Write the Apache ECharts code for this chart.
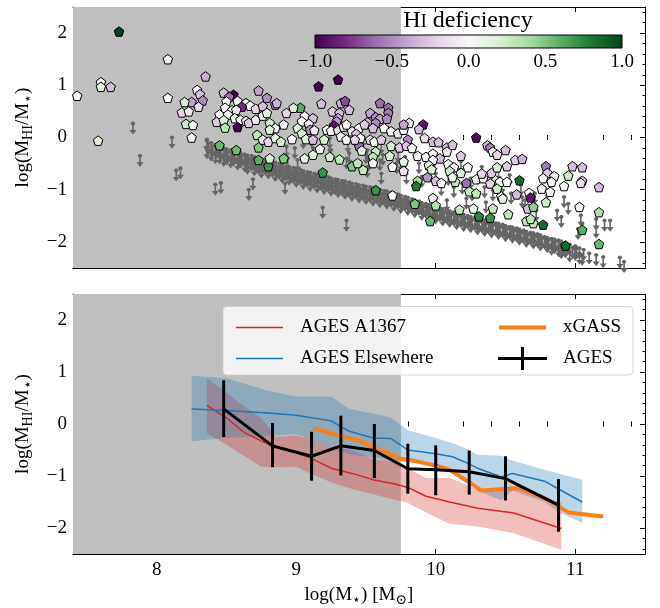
<!DOCTYPE html>
<html>
<head>
<meta charset="utf-8">
<script src="https://cdn.jsdelivr.net/npm/echarts@6/dist/echarts.min.js"></script>
<style>html,body{margin:0;padding:0;background:#fff}#c{width:660px;height:608px}</style>
</head>
<body>
<div id="c"></div>
<script>
// ---------------- data ----------------
const X_MIN = 7.4, X_MAX = 11.5, Y_MIN = -2.5, Y_MAX = 2.5;
const GREY_EDGE = 9.75;
const xMajor = [8, 9, 10, 11];
const yMajor = [-2, -1, 0, 1, 2];
const cbarTicks = [-1, -0.5, 0, 0.5, 1];

// HI detections: [log M*, log(MHI/M*), HI deficiency]
const detections = [
[7.73,2.03,1.0],[8.08,1.5,0.08],[7.43,0.8,0.0],[7.6,1.06,0.0],[7.6,0.97,0.1],[7.67,0.97,-0.3],[7.58,-0.06,0.15],
[8.08,0.76,0.0],[8.35,1.17,-0.35],[8.29,0.91,0.0],[8.31,0.83,-0.3],[8.33,0.71,-0.5],[8.25,0.68,-0.4],[8.2,0.68,0.2],
[8.3,0.59,-0.15],[8.18,0.48,-0.2],[8.23,0.5,-0.1],[8.21,0.26,0.25],[8.26,0.24,0.1],[8.25,0.0,0.1],[8.45,-0.15,0.55],
[8.57,-0.24,0.55],[8.73,0.9,-0.4],[8.79,0.76,-0.5],[8.85,0.63,-0.45],[8.48,0.86,-0.3],[8.55,0.82,-1.0],[8.52,0.78,-0.6],
[8.58,0.7,0.0],[8.64,0.66,0.0],[8.67,0.61,0.0],[8.61,0.59,-0.8],[8.5,0.69,0.0],[8.49,0.57,0.0],[8.54,0.52,0.0],
[8.57,0.53,-0.05],[8.45,0.44,0.0],[8.51,0.44,0.05],[8.56,0.37,0.0],[8.6,0.34,0.05],[8.43,0.3,-0.25],[8.48,0.33,0.2],
[8.49,0.19,0.3],[8.58,0.2,-1.0],[8.64,0.32,0.15],[8.66,0.28,-0.25],[8.71,0.55,-0.2],[8.76,0.6,-0.3],[8.71,0.34,-0.1],
[8.76,0.42,0.0],[8.79,0.47,0.1],[8.81,0.28,0.25],[8.85,0.18,0.0],[8.81,0.15,0.2],[8.72,0.05,0.3],[8.76,-0.04,-0.1],
[8.8,-0.08,-0.2],[8.85,-0.01,0.1],[8.89,-0.08,0.2],[8.91,0.25,0.0],[8.93,0.47,-0.2],[8.86,0.66,-0.35],[8.73,-0.19,0.5],
[8.73,-0.43,0.6],[8.8,-0.55,0.7],[8.81,-0.4,0.2],[8.91,-0.4,0.5],
[9.16,0.98,-1.0],[9.3,1.11,-1.0],[9.18,0.65,-0.3],[9.03,0.57,0.6],[8.98,0.57,0.2],[9.06,0.41,0.0],[9.12,0.37,-0.3],
[9.04,0.31,0.0],[9.09,0.26,0.05],[9.01,0.18,0.2],[9.1,0.15,-0.5],[9.13,0.14,-0.1],[9.04,0.08,0.2],[9.07,-0.03,0.15],
[9.12,-0.04,-0.3],[8.97,-0.03,0.0],[9.26,0.5,-0.25],[9.31,0.47,-0.3],[9.3,0.37,-0.35],[9.29,0.31,-0.45],[9.32,0.66,-0.35],
[9.35,0.7,-0.7],[9.38,0.53,-0.3],[9.27,0.23,-0.9],[9.22,0.15,0.0],[9.25,0.13,0.0],[9.3,0.14,-0.2],[9.34,0.21,0.05],
[9.36,0.25,0.0],[9.32,0.02,0.1],[9.36,-0.04,0.0],[9.2,-0.04,0.2],[9.17,-0.22,0.0],[9.24,-0.37,0.25],[9.31,-0.42,0.3],
[9.06,-0.4,0.1],[9.12,-0.33,0.15],[9.19,-0.67,0.7],[9.4,-0.55,0.5],[9.44,-0.49,0.3],[9.48,-0.62,0.3],[9.4,0.12,-0.1],
[9.45,0.18,0.0],[9.43,0.07,-0.3],[9.45,-0.16,-0.6],[9.46,-0.01,0.0],[9.42,-0.04,-0.2],[9.47,-0.25,0.1],[9.51,0.29,-0.3],
[9.53,0.47,-0.4],[9.57,0.39,-0.5],[9.6,0.66,-0.6],[9.66,0.57,-0.6],[9.66,0.47,-0.55],[9.6,0.36,-0.4],[9.65,0.36,-0.5],
[9.57,0.28,-0.5],[9.49,0.25,-0.25],[9.55,0.18,-0.3],[9.63,0.18,0.0],[9.68,0.12,0.0],[9.73,0.08,-0.1],[9.77,0.15,0.0],
[9.8,-0.04,-0.5],[9.53,-0.04,-0.2],[9.56,-0.08,0.0],[9.61,-0.04,-0.25],[9.68,-0.16,0.2],[9.74,-0.19,-0.25],[9.79,-0.16,-0.25],
[9.57,-0.27,0.25],[9.55,-0.37,0.3],[9.55,-0.49,0.0],[9.67,-0.35,0.2],[9.69,-0.56,0.0],[9.77,-0.64,-0.1],[9.57,-1.01,0.7],
[9.69,-1.11,0.0],
[9.91,0.25,-0.9],[9.81,0.28,-0.1],[9.77,0.25,-0.4],[9.88,0.16,-0.3],[10.29,0.0,-0.95],[9.92,-0.01,-0.15],[9.98,-0.08,-0.3],
[10.02,-0.09,-0.3],[10.08,-0.19,-0.3],[10.12,-0.14,-0.3],[9.83,-0.2,0.0],[10.37,-0.15,-0.3],[10.39,-0.19,-0.55],
[10.41,-0.27,0.0],[10.44,-0.33,-0.2],[10.5,-0.24,-0.3],[10.57,-0.43,-0.25],[10.62,-0.41,-0.35],[10.08,-0.27,-0.1],
[10.18,-0.35,-0.25],[9.87,-0.35,0.0],[9.93,-0.37,0.0],[9.98,-0.31,0.0],[10.03,-0.4,-0.3],[9.98,-0.43,0.0],[9.95,-0.53,0.1],
[9.77,-0.46,0.1],[10.09,-0.51,0.0],[10.13,-0.57,0.0],[10.23,-0.57,0.0],[10.1,-0.64,0.25],[9.97,-0.61,0.2],[10.18,-0.68,0.2],
[9.87,-0.83,0.4],[9.86,-0.93,0.8],[9.94,-0.76,-0.45],[10.0,-0.83,-0.3],[10.04,-0.87,0.0],[10.14,-0.85,0.3],[10.12,-0.76,0.0],
[10.22,-0.87,-0.6],[10.29,-0.8,0.0],[10.34,-0.78,0.0],[10.33,-0.69,-0.2],[10.4,-0.68,-0.25],[10.44,-0.57,0.2],
[10.51,-0.55,-0.25],[10.43,-0.82,0.25],[10.46,-0.85,0.0],[10.51,-0.85,0.0],[10.39,-0.88,-0.2],[10.44,-0.98,0.25],
[10.6,-0.82,0.85],[10.24,-1.03,0.3],[10.29,-1.07,0.3],[9.85,-1.27,0.5],[9.98,-1.16,-0.1],[10.0,-1.3,0.35],[10.17,-1.38,0.3],
[10.27,-1.36,0.1],[10.31,-1.51,0.75],[10.41,-1.36,0.3],[10.39,-1.54,0.7],[10.47,-1.13,0.0],[10.48,-1.17,0.1],
[10.52,-1.47,0.3],[9.96,-1.6,0.55],[10.58,-1.09,-0.3],[10.65,-1.6,0.3],[10.66,-1.36,-0.3],
[10.79,-0.55,-0.55],[10.8,-0.68,-0.25],[10.85,-0.74,-0.1],[10.77,-0.78,0.0],[10.83,-0.85,0.0],[10.98,-0.55,-0.3],
[11.05,-0.57,-0.3],[10.95,-0.73,0.25],[11.05,-0.83,-0.25],[11.04,-0.87,-0.15],[10.92,-0.93,0.0],[11.17,-0.95,-0.3],
[10.76,-0.98,0.05],[10.82,-1.04,0.0],[10.67,-1.06,0.0],[10.68,-1.15,-0.9],[10.79,-1.24,0.25],[10.7,-1.33,0.45],
[10.7,-1.64,0.3],[10.68,-1.56,0.3],[10.77,-1.67,0.85],[11.03,-1.33,0.0],[11.17,-1.43,0.35],[11.05,-1.77,0.6],
[10.93,-2.07,0.85],[11.17,-2.04,0.55]
];

// HI upper limits: [log M*, log(MHI/M*) limit]
const upperLimits = [
[7.83,0.27],[7.88,-0.35],[8.11,0.0],[8.14,-0.63],[8.17,-0.59],[8.42,-0.9],[8.46,-0.87],[8.66,-1.0],[8.69,-0.8],
[8.92,-0.88],[9.19,-1.34],[9.36,-1.59],
[8.36,-0.04],[8.93,-0.17],[8.94,-0.4],[8.99,-0.2],[9.01,-0.43],[9.05,-0.01],[9.11,0.02],[9.12,-0.2],[9.24,-0.01],
[9.25,-0.24],[9.24,-0.24],[9.36,-0.4],[9.37,-0.08],[9.38,-0.3],[9.48,0.02],[9.5,-0.3],[9.51,-0.24],[9.52,-0.43],
[9.51,-0.56],[9.6,-0.43],[9.61,-0.11],[9.61,-0.69],[9.62,-0.33],[9.72,-0.49],[9.73,-0.27],[9.75,-0.43],
[9.78,-0.37],[9.79,-0.69],[9.88,-0.49],[9.9,-0.75],[9.99,-0.46],[10.0,-0.69],[10.04,-0.91],[10.09,-0.72],[10.13,-0.95],
[10.18,-0.46],[10.19,-0.88],[10.25,-0.78],[10.26,-1.01],[10.33,-0.56],[10.35,-0.95],[10.41,-1.01],[10.45,-0.62],
[10.48,-1.01],[10.53,-0.72],[10.54,-1.07],[10.61,-0.91],[10.64,-1.2],[10.08,-1.2],[10.22,-1.17],[10.36,-1.24],
[10.62,-1.14],[10.71,-1.07],[10.72,-1.4],[10.8,-1.11],[10.92,-1.14],[10.95,-1.27],[10.87,-1.4],[10.9,-1.52],
[11.04,-1.49],[11.05,-1.65],[11.15,-1.56],[11.21,-1.59],[11.25,-1.59],[11.02,-1.75],[11.15,-1.72],
[11.05,-2.24],[11.1,-2.22],[11.15,-2.25],[11.2,-2.29],[11.32,-2.3],[11.35,-2.38],
[8.36,-0.06],[8.36,-0.2],[8.39,-0.1],[8.39,-0.25],[8.42,-0.14],[8.42,-0.3],[8.45,-0.17],[8.45,-0.3],[8.48,-0.2],[8.48,-0.35],
[8.5,-0.22],[8.5,-0.32],[8.53,-0.24],[8.53,-0.38],[8.55,-0.26],[8.55,-0.34],[8.58,-0.28],[8.58,-0.42],[8.6,-0.29],[8.6,-0.38],
[8.63,-0.32],[8.63,-0.45],[8.65,-0.34],[8.65,-0.5],[8.68,-0.35],[8.68,-0.44],[8.7,-0.37],[8.7,-0.53],[8.73,-0.4],[8.73,-0.5],
[8.75,-0.41],[8.75,-0.57],[8.78,-0.43],[8.78,-0.52],[8.8,-0.44],[8.8,-0.59],[8.83,-0.46],[8.83,-0.56],[8.85,-0.48],[8.85,-0.64],
[8.88,-0.5],[8.88,-0.6],[8.9,-0.52],[8.9,-0.67],[8.93,-0.55],[8.93,-0.63],[8.95,-0.57],[8.95,-0.71],[8.98,-0.58],[8.98,-0.68],
[9.0,-0.6],[9.0,-0.75],[9.03,-0.62],[9.03,-0.71],[9.05,-0.64],[9.05,-0.79],[9.08,-0.66],[9.08,-0.75],[9.1,-0.67],[9.1,-0.83],
[9.13,-0.69],[9.13,-0.78],[9.15,-0.71],[9.15,-0.86],[9.18,-0.73],[9.18,-0.82],[9.2,-0.74],[9.2,-0.89],[9.23,-0.76],[9.23,-0.85],
[9.25,-0.78],[9.25,-0.92],[9.28,-0.8],[9.28,-0.89],[9.3,-0.81],[9.3,-0.95],[9.33,-0.83],[9.33,-0.92],[9.35,-0.84],[9.35,-0.98],
[9.38,-0.86],[9.38,-0.95],[9.4,-0.88],[9.4,-1.02],[9.43,-0.89],[9.43,-0.98],[9.45,-0.91],[9.45,-1.05],[9.48,-0.92],[9.48,-1.01],
[9.5,-0.94],[9.5,-1.08],[9.53,-0.95],[9.53,-1.04],[9.55,-0.97],[9.55,-1.11],[9.58,-0.98],[9.58,-1.07],[9.6,-1.0],[9.6,-1.14],
[9.63,-1.02],[9.63,-1.1],[9.65,-1.03],[9.65,-1.17],[9.68,-1.05],[9.68,-1.13],[9.7,-1.07],[9.7,-1.21],[9.73,-1.09],[9.73,-1.17],
[9.75,-1.11],[9.75,-1.25],[9.78,-1.13],[9.78,-1.21],[9.8,-1.15],[9.8,-1.29],[9.83,-1.18],[9.83,-1.26],[9.85,-1.2],[9.85,-1.33],
[9.88,-1.22],[9.88,-1.29],[9.9,-1.25],[9.9,-1.38],[9.93,-1.27],[9.93,-1.34],[9.95,-1.29],[9.95,-1.42],[9.98,-1.31],[9.98,-1.38],
[10.0,-1.33],[10.0,-1.45],[10.03,-1.35],[10.03,-1.41],[10.05,-1.37],[10.05,-1.49],[10.08,-1.39],[10.08,-1.45],[10.1,-1.41],[10.1,-1.52],
[10.13,-1.43],[10.13,-1.49],[10.15,-1.44],[10.15,-1.56],[10.18,-1.46],[10.18,-1.52],[10.2,-1.48],[10.2,-1.6],[10.23,-1.5],[10.23,-1.55],
[10.25,-1.52],[10.25,-1.62],[10.28,-1.54],[10.28,-1.58],[10.3,-1.55],[10.3,-1.66],[10.33,-1.57],[10.33,-1.62],[10.35,-1.58],[10.35,-1.69],
[10.38,-1.6],[10.38,-1.65],[10.4,-1.62],[10.4,-1.72],[10.43,-1.64],[10.43,-1.68],[10.45,-1.65],[10.45,-1.75],[10.48,-1.67],[10.48,-1.72],
[10.5,-1.69],[10.5,-1.79],[10.53,-1.71],[10.53,-1.75],[10.55,-1.72],[10.55,-1.82],[10.58,-1.74],[10.58,-1.79],[10.6,-1.76],[10.6,-1.86],
[10.63,-1.78],[10.63,-1.83],[10.65,-1.8],[10.65,-1.9],[10.68,-1.82],[10.68,-1.86],[10.7,-1.83],[10.7,-1.93],[10.73,-1.85],[10.73,-1.9],
[10.75,-1.87],[10.75,-1.97],[10.78,-1.9],[10.78,-1.93],[10.8,-1.92],[10.8,-2.0],[10.83,-1.94],[10.83,-2.05],[10.85,-1.95],[10.85,-2.02],
[10.88,-1.97],[10.88,-2.08],[10.9,-1.99],[10.9,-2.12],[10.93,-2.02],[10.93,-2.1],[10.96,-2.05],[10.96,-2.18],[11.0,-2.08],[11.0,-2.15],
[11.03,-2.12],[11.03,-2.22],[11.06,-2.15],
[8.37,-0.12],[8.4,-0.17],[8.43,-0.2],[8.46,-0.23],[8.49,-0.27],[8.51,-0.28],[8.54,-0.3],[8.56,-0.31],[8.59,-0.34],[8.61,-0.35],
[8.64,-0.38],[8.66,-0.41],[8.69,-0.41],[8.71,-0.44],[8.74,-0.46],[8.76,-0.48],[8.79,-0.49],[8.81,-0.51],[8.84,-0.52],[8.86,-0.55],
[8.89,-0.56],[8.91,-0.59],[8.94,-0.6],[8.96,-0.63],[8.99,-0.64],[9.01,-0.67],[9.04,-0.67],[9.06,-0.71],[9.09,-0.71],[9.11,-0.74],
[9.14,-0.75],[9.16,-0.78],[9.19,-0.79],[9.21,-0.81],[9.24,-0.82],[9.26,-0.85],[9.29,-0.86],[9.31,-0.88],[9.34,-0.89],[9.36,-0.91],
[9.39,-0.92],[9.41,-0.95],[9.44,-0.95],[9.46,-0.98],[9.49,-0.98],[9.51,-1.01],[9.54,-1.01],[9.56,-1.04],[9.59,-1.04],[9.61,-1.07],
[9.64,-1.07],[9.66,-1.1],[9.69,-1.1],[9.71,-1.14],[9.74,-1.14],[9.76,-1.18],[9.79,-1.18],[9.81,-1.22],[9.84,-1.23],[9.86,-1.27],
[9.89,-1.27],[9.91,-1.31],[9.94,-1.31],[9.96,-1.35],[9.99,-1.36],[10.01,-1.39],[10.04,-1.39],[10.06,-1.43],[10.09,-1.43],[10.11,-1.46],
[10.14,-1.46],[10.16,-1.5],[10.19,-1.5],[10.21,-1.54],[10.24,-1.53],[10.26,-1.57],[10.29,-1.57],[10.31,-1.6],[10.34,-1.6],[10.36,-1.63],
[10.39,-1.63],[10.41,-1.67],[10.44,-1.67],[10.46,-1.7],[10.49,-1.7],[10.51,-1.74],[10.54,-1.73],[10.56,-1.77],[10.59,-1.77],[10.61,-1.81],
[10.64,-1.81],[10.66,-1.85],[10.69,-1.85],[10.71,-1.88],[10.74,-1.88],[10.76,-1.92],[10.79,-1.92],[10.81,-1.96],[10.84,-1.99],[10.86,-1.99],
[10.89,-2.03],[10.91,-2.05],[10.94,-2.06],[10.98,-2.11],[11.01,-2.12]
];

// Running medians (bottom panel)
const a1367X  = [8.36, 8.5, 8.62, 8.75, 8.85, 9.0, 9.1, 9.25, 9.4, 9.55, 9.7, 9.8, 9.93, 10.1, 10.3, 10.56, 10.9];
const a1367Y  = [0.36, 0.12, -0.15, -0.33, -0.45, -0.56, -0.65, -0.85, -0.95, -1.07, -1.15, -1.22, -1.39, -1.5, -1.62, -1.71, -2.01];
const a1367Hi = [0.88, 0.6, 0.35, 0.12, -0.25, -0.22, -0.3, -0.45, -0.5, -0.68, -0.72, -0.85, -1.04, -1.04, -1.26, -1.2, -1.52];
const a1367Lo = [-0.18, -0.4, -0.6, -0.82, -0.83, -0.82, -0.95, -1.12, -1.25, -1.35, -1.45, -1.52, -1.7, -1.92, -1.97, -2.1, -2.42];

const elseX  = [8.25, 8.5, 8.8, 9.0, 9.25, 9.38, 9.55, 9.68, 9.8, 10.0, 10.12, 10.2, 10.3, 10.47, 10.55, 10.78, 10.88, 11.05];
const elseY  = [0.29, 0.26, 0.21, 0.17, 0.06, -0.14, -0.27, -0.28, -0.5, -0.57, -0.63, -0.72, -0.85, -1.02, -0.95, -1.1, -1.25, -1.5];
const elseHi = [0.93, 0.88, 0.64, 0.53, 0.53, 0.29, 0.2, 0.12, -0.12, -0.27, -0.37, -0.45, -0.59, -0.61, -0.7, -0.88, -0.95, -1.07];
const elseLo = [-0.33, -0.27, -0.23, -0.19, -0.45, -0.58, -0.64, -0.7, -0.73, -0.8, -0.88, -1.0, -1.28, -1.47, -1.28, -1.5, -1.7, -1.9];

const xgassX = [9.12, 9.3, 9.45, 9.57, 9.75, 9.85, 10.0, 10.1, 10.18, 10.33, 10.6, 10.68, 10.8, 10.95, 11.2];
const xgassY = [-0.08, -0.22, -0.32, -0.47, -0.67, -0.71, -0.8, -0.88, -1.02, -1.28, -1.23, -1.32, -1.45, -1.7, -1.78];

const agesX  = [8.48, 8.83, 9.11, 9.32, 9.56, 9.8, 10.0, 10.24, 10.5, 10.88];
const agesY  = [0.29, -0.42, -0.62, -0.42, -0.51, -0.86, -0.88, -0.92, -1.05, -1.56];
const agesLo = [-0.25, -0.83, -1.09, -0.99, -1.04, -1.34, -1.37, -1.36, -1.47, -2.07];
const agesHi = [0.84, 0.02, -0.15, 0.16, 0.0, -0.38, -0.41, -0.51, -0.62, -1.06];

// ---------------- style ----------------
const FONT = "'Liberation Serif','DejaVu Serif',serif";
const PRGN = ['#40004b','#762a83','#9970ab','#c2a5cf','#e7d4e8','#f7f7f7','#d9f0d3','#a6dba0','#5aae61','#1b7837','#00441b'];
const xMinor = [7.4,7.6,7.8,8.2,8.4,8.6,8.8,9.2,9.4,9.6,9.8,10.2,10.4,10.6,10.8,11.2,11.4];
const yMinor = [-2.4,-2.2,-1.8,-1.6,-1.4,-1.2,-0.8,-0.6,-0.4,-0.2,0.2,0.4,0.6,0.8,1.2,1.4,1.6,1.8,2.2,2.4];
const minus = v => (v < 0 ? '\u2212' + String(-v) : String(v));
const LINE = {show: true, onZero: false, lineStyle: {color: '#000', width: 1}};
const labelStyle = {fontSize: 19, fontFamily: FONT, color: '#000'};

const nameRich = {
  t: {fontSize: 19, fontFamily: FONT, color: '#000'},
  s: {fontSize: 14, fontFamily: FONT, color: '#000', padding: [9, 0, 0, 0]}
};

function makeX(grid, showLabels, name) {
  const base = {type: 'value', gridIndex: grid, min: X_MIN, max: X_MAX, splitLine: {show: false}};
  return [
    Object.assign({}, base, {position: 'bottom', axisLine: LINE,
      axisTick: {show: true, inside: true, length: 5, customValues: xMajor, lineStyle: {color: '#000'}},
      axisLabel: {show: showLabels, customValues: xMajor, margin: 7, ...labelStyle},
      name: name || '', nameLocation: 'middle', nameGap: 30,
      nameTextStyle: {fontSize: 19, fontFamily: FONT, color: '#000', rich: nameRich}}),
    Object.assign({}, base, {position: 'bottom', axisLine: {show: false},
      axisTick: {show: true, inside: true, length: 2.5, customValues: xMinor, lineStyle: {color: '#000'}},
      axisLabel: {show: false}}),
    Object.assign({}, base, {position: 'top', axisLine: LINE,
      axisTick: {show: true, inside: true, length: 5, customValues: xMajor, lineStyle: {color: '#000'}},
      axisLabel: {show: false}}),
    Object.assign({}, base, {position: 'top', axisLine: {show: false},
      axisTick: {show: true, inside: true, length: 2.5, customValues: xMinor, lineStyle: {color: '#000'}},
      axisLabel: {show: false}})
  ];
}
function makeY(grid) {
  const base = {type: 'value', gridIndex: grid, min: Y_MIN, max: Y_MAX, splitLine: {show: false}};
  return [
    Object.assign({}, base, {position: 'left', axisLine: LINE,
      axisTick: {show: true, inside: true, length: 5, customValues: yMajor, lineStyle: {color: '#000'}},
      axisLabel: {show: true, customValues: yMajor, margin: 6, formatter: minus, ...labelStyle},
      name: '{t|log(M}{s|HI}{t|/M}{s|\u22C6}{t|)}', nameLocation: 'middle', nameGap: 38, nameRotate: 90,
      nameTextStyle: {fontSize: 19, fontFamily: FONT, color: '#000', rich: nameRich}}),
    Object.assign({}, base, {position: 'left', axisLine: {show: false},
      axisTick: {show: true, inside: true, length: 2.5, customValues: yMinor, lineStyle: {color: '#000'}},
      axisLabel: {show: false}}),
    Object.assign({}, base, {position: 'right', axisLine: LINE,
      axisTick: {show: true, inside: true, length: 5, customValues: yMajor, lineStyle: {color: '#000'}},
      axisLabel: {show: false}}),
    Object.assign({}, base, {position: 'right', axisLine: {show: false},
      axisTick: {show: true, inside: true, length: 2.5, customValues: yMinor, lineStyle: {color: '#000'}},
      axisLabel: {show: false}})
  ];
}

const pentagon = 'path://M0,-1 L0.951,-0.309 L0.588,0.809 L-0.588,0.809 L-0.951,-0.309 Z';
const arrow = 'path://M3.4,0 L5.6,0 L6.9,1.8 L5.6,3.6 L5.3,3.6 L5.3,8.3 L8,8.3 L4.5,13 L1,8.3 L3.7,8.3 L3.7,3.6 L3.4,3.6 L2.1,1.8 Z';
const greyArea = {silent: true, itemStyle: {color: '#bfbfbf'}, data: [[{xAxis: X_MIN}, {xAxis: GREY_EDGE}]]};
// legend line icons (tiny corner marks keep the icon box full height)
const lineIcon = w => 'path://M0,0 L0.01,0 L0,0.01 Z M0,' + (11.5 - w / 2) + ' H47 V' + (11.5 + w / 2) + ' H0 Z M47,23 L46.99,23 L47,22.99 Z';

const pairs = (xs, ys) => xs.map((x, i) => [x, ys[i]]);

function band(xs, lo, hi, color) {
  return {
    type: 'custom', xAxisIndex: 4, yAxisIndex: 4, silent: true, z: 2,
    data: xs.map((x, i) => [x, lo[i], hi[i]]), encode: {x: 0, y: [1, 2]},
    renderItem: (params, api) => {
      if (params.dataIndex !== 0) return null;
      const pts = [];
      for (let i = 0; i < xs.length; i++) pts.push(api.coord([xs[i], hi[i]]));
      for (let i = xs.length - 1; i >= 0; i--) pts.push(api.coord([xs[i], lo[i]]));
      return {type: 'polygon', shape: {points: pts}, style: {fill: color, stroke: 'none'}};
    }
  };
}

const chart = echarts.init(document.getElementById('c'), null, {renderer: 'canvas'});
const option = {
  animation: false,
  backgroundColor: '#fff',
  grid: [
    {left: 73, top: 7, width: 572, height: 261},
    {left: 73, top: 294, width: 572, height: 262},
    {left: 315, top: 35, width: 307, height: 13, show: true, borderColor: '#000', borderWidth: 1,
     backgroundColor: new echarts.graphic.LinearGradient(0, 0, 1, 0, PRGN.map((c, i) => ({offset: i / 10, color: c}))), z: 6}
  ],
  xAxis: [
    ...makeX(0, false),
    ...makeX(1, true, '{t|log(M}{s|\u22C6}{t|) [M}{s|\u2299}{t|]}'),
    {type: 'value', gridIndex: 2, min: -1, max: 1, interval: 0.5, position: 'bottom', z: 6,
     axisLine: {show: false}, axisTick: {show: false}, splitLine: {show: false},
     axisLabel: {margin: 5, ...labelStyle, formatter: v => (v < 0 ? '\u2212' + (-v).toFixed(1) : v.toFixed(1))}}
  ],
  yAxis: [
    ...makeY(0), ...makeY(1),
    {type: 'value', gridIndex: 2, min: 0, max: 1, show: false}
  ],
  visualMap: {show: false, type: 'continuous', seriesIndex: 1, dimension: 2, min: -1, max: 1, inRange: {color: PRGN}},
  legend: [
    {data: [{name: 'AGES A1367', icon: lineIcon(1.6)}, {name: 'AGES Elsewhere', icon: lineIcon(1.6)}],
     orient: 'vertical', left: 231, top: 311, itemWidth: 47, itemHeight: 23, itemGap: 8,
     z: 20, textStyle: {fontSize: 19, fontFamily: FONT, color: '#000', padding: [0, 0, 0, 12], lineHeight: 23}},
    {data: [{name: 'xGASS', icon: lineIcon(4)}, {name: 'AGES', icon: 'path://M0,10 H49 V13 H0 Z M23,0 H26 V23 H23 Z'}],
     orient: 'vertical', left: 493, top: 311,
     itemWidth: 49, itemHeight: 23, itemGap: 8, z: 20,
     textStyle: {fontSize: 19, fontFamily: FONT, color: '#000', padding: [0, 0, 0, 11], lineHeight: 23}}
  ],
  graphic: [
    {type: 'rect', z: 10, shape: {x: 223, y: 306.5, width: 410, height: 68.5, r: 4},
     style: {fill: 'rgba(255,255,255,0.8)', stroke: 'rgba(204,204,204,0.8)', lineWidth: 1}},
    {type: 'text', z: 10, x: 468, y: 21,
     style: {text: '{b|H}{c|I}{b| deficiency}', align: 'center', verticalAlign: 'middle',
       rich: {b: {fontSize: 24, fontFamily: FONT, color: '#000'}, c: {fontSize: 18, fontFamily: FONT, color: '#000', padding: [3, 0, 0, 0]}}}}
  ],
  series: [
    {type: 'scatter', name: 'limits', xAxisIndex: 0, yAxisIndex: 0, data: upperLimits, symbol: arrow,
     symbolSize: [7, 13], symbolOffset: [0, 4.7], itemStyle: {color: '#666666', opacity: 1}, silent: true, markArea: greyArea, z: 2},
    {type: 'scatter', name: 'detections', xAxisIndex: 0, yAxisIndex: 0, data: detections, symbol: pentagon,
     symbolSize: 9.5, itemStyle: {borderColor: '#000', borderWidth: 1, opacity: 1}, silent: true, z: 3},
    band(a1367X, a1367Lo, a1367Hi, 'rgba(214,39,40,0.3)'),
    band(elseX, elseLo, elseHi, 'rgba(31,119,180,0.3)'),
    {type: 'line', name: 'AGES A1367', xAxisIndex: 4, yAxisIndex: 4, data: pairs(a1367X, a1367Y), symbol: 'none',
     lineStyle: {color: '#d62728', width: 1.5}, itemStyle: {color: '#d62728'}, markArea: greyArea, z: 3},
    {type: 'line', name: 'AGES Elsewhere', xAxisIndex: 4, yAxisIndex: 4, data: pairs(elseX, elseY), symbol: 'none',
     lineStyle: {color: '#1f77b4', width: 1.5}, itemStyle: {color: '#1f77b4'}, z: 3},
    {type: 'line', name: 'xGASS', xAxisIndex: 4, yAxisIndex: 4, data: pairs(xgassX, xgassY), symbol: 'none',
     lineStyle: {color: '#ff7f0e', width: 4}, itemStyle: {color: '#ff7f0e'}, z: 4},
    {type: 'line', name: 'AGES', xAxisIndex: 4, yAxisIndex: 4, data: pairs(agesX, agesY), symbol: 'none',
     lineStyle: {color: '#000', width: 3}, itemStyle: {color: '#000'}, z: 5},
    {type: 'custom', name: 'AGES err', xAxisIndex: 4, yAxisIndex: 4, z: 5, silent: true,
     data: agesX.map((x, i) => [x, agesLo[i], agesHi[i]]), encode: {x: 0, y: [1, 2]},
     renderItem: (params, api) => {
       const p1 = api.coord([api.value(0), api.value(1)]);
       const p2 = api.coord([api.value(0), api.value(2)]);
       return {type: 'line', shape: {x1: p1[0], y1: p1[1], x2: p2[0], y2: p2[1]}, style: {stroke: '#000', lineWidth: 3}};
     }}
  ]
};
chart.setOption(option);
</script>
</body>
</html>
